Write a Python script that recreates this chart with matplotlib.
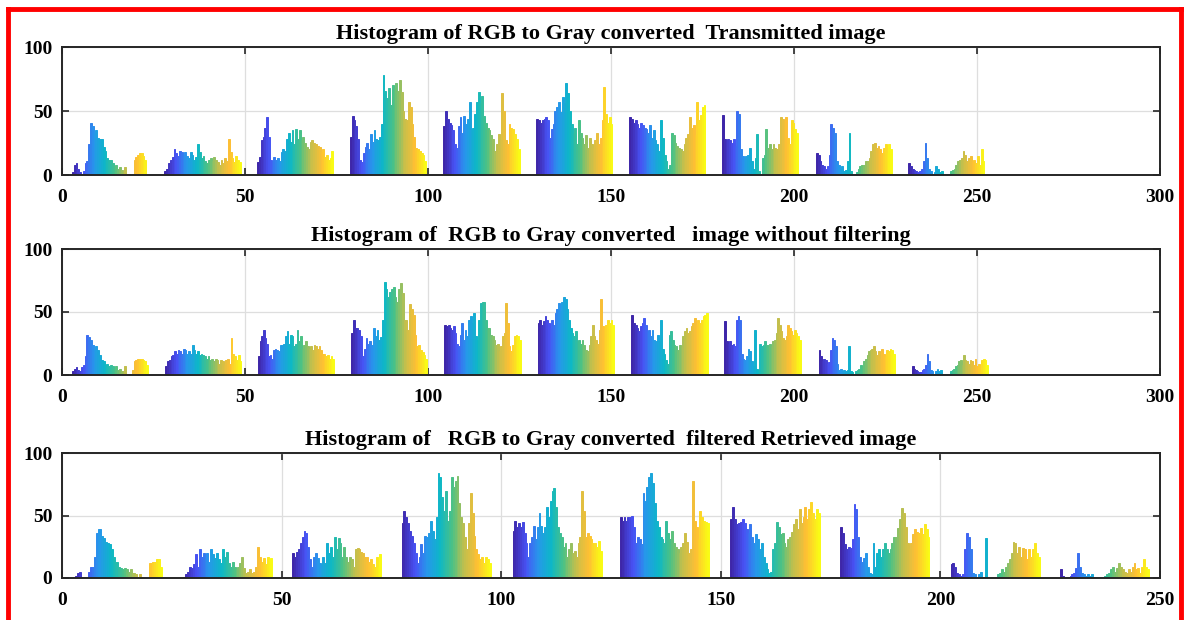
import matplotlib
matplotlib.use("Agg")
import matplotlib.pyplot as plt
from matplotlib.colors import LinearSegmentedColormap
from matplotlib.lines import Line2D
import numpy as np

#Titulos de los tres histogramas
titulos = ["Histogram of RGB to Gray converted  Transmitted image",
           "Histogram of  RGB to Gray converted   image without filtering",
           "Histogram of   RGB to Gray converted  filtered Retrieved image"]
limitesX = [300, 300, 250]

#Inicio de cada grupo de barras (eje x) y ancho de cada grupo
inicioTrans = [2.7, 28.0, 53.3, 78.7, 104.2, 129.6, 155.0, 180.3, 206.0, 231.2]
inicioSinFiltro = [2.7, 28.2, 53.5, 79.0, 104.5, 130.0, 155.6, 181.0, 206.7, 232.2]
inicioFiltrada = [2.5, 27.6, 52.4, 77.3, 102.6, 127.0, 152.2, 177.2, 202.3, 227.2]
anchoGrupo = [20.8, 20.8, 20.3]

#Histograma 1: imagen transmitida
trans = [
    [2, 8, 9, 5, 2, 1, 3, 9, 11, 24, 41, 38, 33, 35, 29, 28, 28, 22, 19, 13, 12, 12, 9, 7, 8, 5, 6, 4, 3, 6, 1, 1, 0, 1, 12, 14, 16, 17, 17, 15, 12, 0],
    [3, 5, 9, 12, 14, 20, 17, 15, 19, 18, 16, 18, 15, 13, 18, 16, 12, 14, 24, 18, 13, 15, 11, 9, 12, 13, 11, 14, 12, 10, 8, 12, 9, 13, 11, 28, 18, 13, 10, 15, 12, 10],
    [10, 14, 27, 30, 37, 45, 30, 12, 11, 14, 12, 13, 11, 18, 20, 19, 28, 33, 26, 35, 24, 36, 28, 35, 27, 30, 25, 22, 20, 26, 27, 25, 24, 23, 22, 18, 20, 14, 16, 12, 13, 19],
    [30, 46, 43, 38, 28, 12, 10, 17, 22, 25, 20, 32, 26, 35, 28, 27, 30, 40, 78, 66, 60, 68, 55, 70, 68, 72, 66, 74, 65, 50, 44, 43, 57, 53, 40, 30, 21, 20, 19, 17, 16, 11],
    [38, 50, 44, 41, 39, 35, 24, 21, 38, 45, 33, 46, 40, 44, 57, 35, 37, 48, 57, 65, 56, 62, 46, 41, 37, 35, 31, 28, 19, 24, 32, 27, 64, 50, 27, 24, 40, 37, 36, 32, 28, 20],
    [44, 43, 41, 43, 44, 45, 43, 29, 36, 40, 50, 53, 57, 49, 61, 56, 72, 64, 50, 40, 33, 37, 24, 43, 33, 29, 24, 31, 21, 29, 24, 21, 27, 33, 24, 29, 43, 69, 48, 41, 45, 40],
    [45, 44, 41, 43, 40, 37, 41, 39, 37, 36, 33, 39, 29, 35, 27, 24, 19, 43, 29, 16, 11, 5, 8, 33, 31, 25, 23, 21, 20, 19, 24, 29, 32, 45, 37, 39, 31, 57, 43, 47, 53, 55],
    [47, 28, 27, 28, 27, 25, 28, 23, 50, 48, 20, 15, 13, 15, 16, 21, 11, 5, 13, 32, 3, 1, 13, 16, 36, 21, 24, 20, 24, 21, 20, 24, 45, 44, 43, 45, 29, 24, 43, 41, 36, 33],
    [17, 16, 11, 8, 7, 5, 7, 16, 40, 37, 33, 11, 8, 5, 7, 3, 4, 11, 33, 3, 1, 1, 2, 5, 7, 8, 8, 11, 11, 13, 19, 24, 25, 21, 23, 20, 17, 21, 24, 17, 24, 20],
    [9, 7, 5, 4, 3, 2, 3, 5, 11, 25, 13, 5, 3, 1, 2, 7, 5, 2, 3, 1, 1, 1, 1, 3, 4, 5, 8, 11, 12, 13, 19, 16, 11, 13, 15, 11, 12, 9, 15, 8, 20, 11],
]

#Histograma 2: imagen sin filtrar
sinFiltro = [
    [3, 5, 6, 4, 3, 6, 8, 15, 32, 30, 28, 24, 21, 23, 20, 16, 12, 11, 8, 9, 7, 8, 7, 5, 7, 4, 5, 3, 3, 7, 1, 1, 1, 4, 11, 12, 13, 13, 13, 12, 11, 8],
    [7, 11, 12, 15, 16, 19, 17, 20, 19, 17, 21, 20, 17, 19, 17, 24, 20, 17, 19, 16, 17, 16, 15, 13, 15, 12, 13, 11, 13, 12, 9, 12, 11, 8, 12, 13, 9, 29, 17, 15, 12, 16, 11],
    [15, 27, 31, 36, 29, 25, 15, 16, 13, 20, 21, 20, 19, 24, 24, 25, 31, 35, 25, 32, 31, 23, 25, 36, 27, 31, 21, 24, 27, 23, 21, 23, 20, 24, 23, 21, 23, 20, 17, 17, 15, 16, 13, 15, 13],
    [33, 44, 37, 37, 36, 31, 15, 21, 29, 25, 27, 24, 37, 31, 36, 28, 30, 44, 74, 68, 62, 66, 68, 70, 62, 58, 68, 73, 65, 44, 44, 36, 56, 52, 48, 32, 23, 24, 20, 18, 16, 13],
    [40, 39, 40, 37, 36, 39, 33, 25, 23, 32, 41, 28, 36, 31, 44, 47, 41, 49, 31, 28, 44, 57, 58, 58, 44, 37, 37, 32, 31, 28, 24, 25, 19, 23, 31, 33, 57, 41, 23, 19, 24, 31, 32, 31, 28],
    [41, 44, 40, 43, 47, 44, 41, 37, 44, 40, 49, 52, 57, 51, 58, 62, 60, 52, 44, 37, 33, 31, 35, 27, 28, 25, 28, 24, 20, 19, 24, 31, 40, 31, 28, 25, 36, 60, 39, 37, 40, 44, 41, 44, 40],
    [48, 41, 40, 37, 35, 39, 41, 45, 40, 35, 36, 31, 36, 28, 27, 32, 27, 44, 21, 17, 12, 9, 32, 35, 28, 24, 23, 20, 24, 23, 31, 35, 37, 33, 35, 39, 41, 45, 40, 44, 41, 44, 47, 48, 49],
    [43, 27, 25, 27, 24, 25, 23, 44, 47, 44, 17, 13, 12, 15, 21, 19, 11, 7, 36, 5, 4, 25, 23, 24, 27, 24, 24, 25, 23, 27, 28, 33, 45, 40, 35, 29, 28, 31, 40, 37, 35, 32, 36, 33, 31, 28],
    [20, 15, 11, 13, 12, 9, 10, 20, 29, 28, 23, 9, 4, 5, 3, 4, 3, 4, 23, 3, 2, 1, 3, 4, 5, 8, 7, 11, 13, 16, 19, 20, 21, 23, 19, 16, 19, 13, 21, 17, 15, 20, 19, 21, 20, 17],
    [7, 5, 4, 3, 2, 2, 4, 5, 8, 17, 11, 4, 3, 1, 3, 5, 3, 4, 1, 1, 1, 1, 1, 3, 4, 5, 7, 8, 11, 12, 8, 16, 12, 11, 9, 12, 11, 8, 13, 7, 9, 4, 12, 13, 12, 8],
]

#Histograma 3: imagen recuperada filtrada
filtrada = [
    [1, 2, 4, 5, 1, 1, 1, 5, 9, 9, 17, 36, 39, 34, 32, 29, 28, 27, 23, 17, 13, 9, 8, 7, 8, 7, 5, 7, 4, 3, 1, 3, 1, 0, 0, 0, 12, 13, 13, 15, 15, 9],
    [1, 3, 5, 9, 8, 11, 19, 9, 23, 17, 20, 16, 20, 13, 23, 19, 16, 20, 15, 12, 23, 17, 21, 12, 9, 13, 9, 7, 9, 12, 17, 8, 4, 5, 7, 4, 5, 9, 25, 17, 13, 16, 11, 17, 15, 16],
    [20, 17, 21, 23, 28, 33, 38, 36, 25, 15, 9, 17, 20, 16, 12, 11, 17, 12, 28, 20, 25, 17, 33, 23, 32, 28, 17, 25, 17, 13, 17, 15, 9, 23, 24, 23, 21, 20, 17, 17, 13, 15, 11, 9, 17, 9, 19],
    [44, 54, 49, 44, 38, 34, 28, 20, 12, 17, 27, 20, 34, 33, 36, 46, 38, 31, 49, 84, 81, 65, 54, 70, 46, 54, 81, 73, 78, 82, 60, 49, 44, 33, 23, 44, 68, 52, 34, 23, 19, 15, 17, 12, 17, 15, 12],
    [38, 46, 41, 44, 41, 45, 36, 28, 17, 28, 33, 42, 31, 41, 52, 42, 36, 41, 57, 49, 62, 70, 72, 57, 41, 36, 33, 25, 28, 17, 23, 28, 20, 22, 17, 28, 33, 70, 54, 33, 36, 34, 31, 28, 28, 25, 30, 22],
    [49, 46, 49, 46, 49, 49, 50, 41, 28, 33, 31, 27, 68, 62, 73, 81, 84, 76, 60, 46, 41, 33, 31, 28, 46, 36, 31, 38, 28, 25, 23, 20, 25, 28, 36, 29, 20, 23, 78, 46, 41, 31, 54, 49, 46, 45, 44],
    [47, 57, 47, 43, 44, 45, 47, 44, 39, 36, 43, 33, 28, 35, 31, 23, 28, 17, 12, 7, 4, 5, 23, 28, 45, 41, 35, 36, 28, 25, 31, 33, 37, 43, 47, 39, 55, 44, 49, 57, 47, 55, 61, 52, 47, 55, 52],
    [41, 36, 27, 23, 25, 24, 31, 59, 55, 33, 17, 13, 16, 20, 9, 4, 3, 28, 9, 20, 23, 17, 23, 28, 23, 20, 23, 28, 33, 33, 40, 47, 56, 52, 41, 28, 23, 28, 35, 39, 37, 36, 40, 35, 43, 39, 33],
    [11, 12, 9, 4, 3, 2, 3, 23, 36, 33, 23, 4, 3, 1, 3, 5, 1, 1, 32, 1, 1, 1, 1, 1, 3, 4, 7, 5, 9, 12, 15, 20, 29, 28, 20, 25, 17, 24, 23, 15, 23, 17, 23, 28, 20, 17],
    [7, 2, 1, 1, 1, 2, 3, 4, 8, 20, 9, 4, 3, 2, 3, 2, 3, 1, 1, 1, 1, 1, 1, 2, 3, 4, 7, 9, 5, 8, 12, 9, 7, 5, 4, 7, 5, 9, 12, 7, 8, 4, 9, 15, 9, 7],
]

#Mapa de color tipo parula (MATLAB)
parula = LinearSegmentedColormap.from_list("parula", [
    (0.00, (0.2422, 0.1504, 0.6603)),
    (0.14, (0.2810, 0.3228, 0.9579)),
    (0.28, (0.1540, 0.5902, 0.9218)),
    (0.43, (0.0500, 0.7200, 0.7800)),
    (0.57, (0.3000, 0.7600, 0.5200)),
    (0.71, (0.7600, 0.7500, 0.3000)),
    (0.86, (0.9990, 0.7500, 0.2000)),
    (1.00, (0.9769, 0.9839, 0.0805))])

fuente = "Liberation Serif"
fig = plt.figure(figsize=(11.89, 6.2), dpi=100)

#Posiciones de los ejes en pixeles (arriba, abajo)
cajas = [(47, 175), (249, 375), (453, 578)]
datos = [trans, sinFiltro, filtrada]
inicios = [inicioTrans, inicioSinFiltro, inicioFiltrada]

for k in range(3):
    arriba, abajo = cajas[k]
    ax = fig.add_axes([62/1189, 1-abajo/620, (1160-62)/1189, (abajo-arriba)/620])
    for g in range(len(datos[k])):
        h = datos[k][g]
        n = len(h)
        paso = anchoGrupo[k]/n
        x = inicios[k][g] + paso*np.arange(n)
        colores = parula(np.linspace(0, 1, n))
        ax.bar(x, h, width=paso, align="edge", color=colores,
               edgecolor=colores, linewidth=0.7)
    ax.set_xlim(0, limitesX[k])
    ax.set_ylim(0, 100)
    ax.set_xticks(np.arange(0, limitesX[k]+1, 50))
    ax.set_yticks([0, 50, 100])
    ax.set_axisbelow(True)
    ax.grid(True, color="#dedede", linewidth=0.9)
    ax.tick_params(direction="in", length=5, width=1.2, top=True, right=True,
                   labelsize=14, colors="#262626")
    ax.tick_params(axis="x", pad=10)
    ax.tick_params(axis="y", pad=7)
    for lab in ax.get_xticklabels() + ax.get_yticklabels():
        lab.set_fontfamily(fuente)
        lab.set_fontweight("bold")
        lab.set_color("black")
    for s in ax.spines.values():
        s.set_linewidth(1.4)
        s.set_color("#262626")
    ax.set_title(titulos[k], fontsize=16, fontweight="bold", fontfamily=fuente, pad=6)

#Marco rojo
fig.add_artist(Line2D([8/1189, 8/1189], [0, 1-9/620], color="red", linewidth=3.5))
fig.add_artist(Line2D([1181/1189, 1181/1189], [0, 1-9/620], color="red", linewidth=3.5))
fig.add_artist(Line2D([8/1189, 1181/1189], [1-9/620, 1-9/620], color="red", linewidth=3.5))

fig.savefig("out.png", dpi=100)
